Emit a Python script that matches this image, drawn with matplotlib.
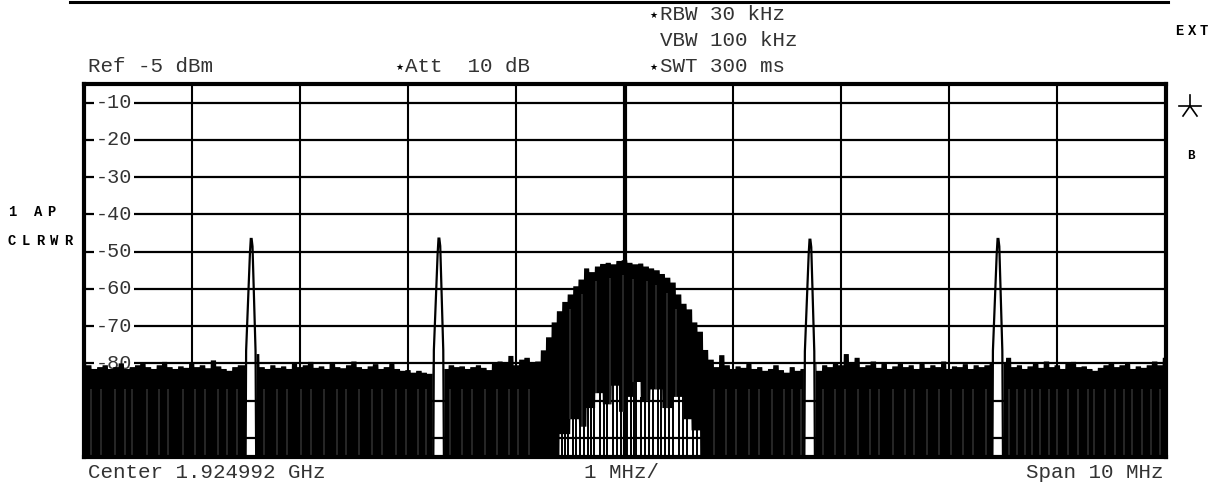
import numpy as np
import matplotlib
matplotlib.use("Agg")
import matplotlib.pyplot as plt
from matplotlib.lines import Line2D

# ---------------- data ----------------
# x axis: offset from centre frequency in MHz (1 MHz/div, span 10 MHz)
env_step_mhz = 0.05
env_db = np.array([
    # -5.00 .. -3.50
    -79.5, -80.5, -81.5, -81.0, -80.5, -81.5, -81.0, -80.0, -81.5, -81.0,
    -80.5, -79.8, -81.0, -81.5, -80.5, -79.6, -81.0, -81.5, -80.8, -81.2,
    -79.7, -81.0, -80.5, -81.3, -79.2, -80.8, -81.5, -82.0, -81.0, -80.5,
    -80.5,
    # tone 1 region
    -80.0, -77.5,
    # -3.35 .. -1.80
    -81.0, -81.5, -80.5, -81.2, -80.8, -81.5, -79.8, -81.0, -80.5, -79.6,
    -81.2, -80.8, -81.5, -80.0, -81.0, -81.3, -80.5, -79.5, -81.0, -81.5,
    -80.8, -80.2, -81.5, -81.0, -80.0, -81.5, -82.0, -81.8, -82.5, -82.0,
    -82.5, -82.8,
    # tone 2 region
    -80.0, -80.0,
    # -1.65 .. -0.85
    -81.5, -80.5, -81.0, -80.8, -81.5, -81.0, -80.5, -81.2, -81.8, -80.0,
    -79.5, -80.0, -78.0, -80.5, -79.0, -78.5, -80.0,
    # carrier -0.80 .. 0.75
    -79.5, -76.5, -73.0, -69.0, -66.0, -63.5, -61.5, -59.3, -57.5, -54.5,
    -55.5, -54.0, -53.3, -53.0, -53.4, -52.5, -52.3, -53.0, -53.4, -53.2,
    -54.0, -54.5, -55.0, -56.0, -57.0, -58.3, -61.5, -64.0, -65.5, -69.0,
    -71.5, -76.4,
    # 0.80, 0.85
    -79.0, -81.0,
    # 0.90 .. 1.65
    -77.8, -80.5, -81.5, -80.8, -81.2, -80.0, -81.5, -81.0, -82.0, -81.5,
    -80.5, -81.8, -82.5, -81.0, -82.0, -81.5,
    # tone 3 region
    -80.0, -80.0,
    # 1.80 .. 3.35
    -82.0, -80.5, -81.0, -79.8, -80.5, -77.5, -80.0, -78.5, -81.0, -80.5,
    -79.5, -81.2, -80.0, -81.5, -80.8, -79.8, -81.0, -80.5, -81.5, -80.0,
    -81.2, -80.5, -81.0, -79.5, -81.5, -80.8, -81.0, -80.2, -81.5, -80.5,
    -81.0, -80.5,
    # tone 4 region
    -80.0, -80.0, -80.0,
    # 3.55 .. 5.00
    -78.5, -81.0, -80.5, -81.5, -80.8, -80.0, -81.2, -79.5, -81.0, -80.5,
    -81.5, -80.0, -79.6, -81.0, -80.8, -81.5, -82.0, -81.2, -80.5, -79.8,
    -81.0, -80.5, -80.0, -81.5, -80.8, -81.2, -80.5, -79.5, -80.5, -78.5,
])
env_freq = np.round(-5.0 + env_step_mhz * np.arange(len(env_db)), 3)

# discrete tones (offset MHz, peak dBm)
tone_f = [-3.450, -1.715, 1.714, 3.452]
tone_peak = [-46.6, -46.5, -46.8, -46.6]
tone_df = [-0.052, -0.047, -0.012, -0.004, 0.004, 0.012, 0.040, 0.046]
tone_rel = [-60.0, -30.0, -4.0, 0.0, 0.0, -2.0, -30.0, -60.0]
tone_gap = (-0.055, 0.050)

# inside the carrier the trace minima stay above the screen bottom
hump_floor_f = [-0.60, -0.50, -0.42, -0.35, -0.27, -0.20, -0.12, -0.05, 0.00,
                0.08, 0.15, 0.24, 0.35, 0.45, 0.55, 0.62, 0.70]
hump_floor_db = [-99.0, -95.0, -97.0, -92.0, -88.0, -91.0, -86.0, -93.0,
                 -89.0, -85.0, -90.0, -87.0, -92.0, -89.0, -95.0, -98.0]
hump_spike_f = [-0.58, -0.55, -0.52, -0.48, -0.45, -0.41, -0.37, -0.34, -0.31,
                -0.28, -0.23, -0.19, -0.16, -0.11, -0.07, -0.03, 0.02, 0.06,
                0.09, 0.11, 0.15, 0.19, 0.23, 0.26, 0.31, 0.34, 0.37, 0.41,
                0.45, 0.50, 0.54, 0.58, 0.63, 0.67, 0.72]
hump_slit_f = [-0.50, -0.39, -0.26, -0.13, -0.01, 0.08, 0.21, 0.29, 0.39, 0.48]

# thin light slits in the noise floor
slit_f = [-4.93, -4.84, -4.71, -4.62, -4.55, -4.41, -4.30, -4.22, -4.08, -3.97,
          -3.88, -3.76, -3.67, -3.58,
          -3.33, -3.21, -3.12, -2.99, -2.90, -2.78, -2.66, -2.57, -2.45, -2.33,
          -2.24, -2.11, -2.02, -1.91, -1.83,
          -1.61, -1.50, -1.41, -1.29, -1.18, -1.07, -0.98, -0.88,
          0.83, 0.94, 1.03, 1.15, 1.24, 1.36, 1.47, 1.55, 1.63,
          1.83, 1.95, 2.04, 2.16, 2.27, 2.35, 2.48, 2.59, 2.68, 2.80, 2.91,
          3.02, 3.13, 3.22, 3.34,
          3.55, 3.63, 3.70, 3.77, 3.84, 3.92, 4.00, 4.10, 4.19, 4.28, 4.34,
          4.44, 4.53, 4.62, 4.69, 4.78, 4.87, 4.95]

y_levels = [-10, -20, -30, -40, -50, -60, -70, -80, -90, -100]
y_labels = ["-10", "-20", "-30", "-40", "-50", "-60", "-70", "-80"]
x_divs = [-4, -3, -2, -1, 0, 1, 2, 3, 4]

# ---------------- figure ----------------
W, H = 1219, 482
plt.rcParams["font.family"] = ["Liberation Mono", "DejaVu Sans"]
fig = plt.figure(figsize=(W / 100, H / 100), dpi=100)
X0, X1, Y0, Y1 = 83.5, 1165.5, 84.0, 456.5
ax = fig.add_axes([X0 / W, 1 - Y1 / H, (X1 - X0) / W, (Y1 - Y0) / H])
ax.set_xlim(-5, 5)
ax.set_ylim(-105, -5)
ax.set_xticks([])
ax.set_yticks([])
for s in ax.spines.values():
    s.set_linewidth(3.0)
    s.set_color("black")
    s.set_zorder(10)

for lv in y_levels:
    ax.axhline(lv, color="black", lw=1.6, zorder=1)
for xv in x_divs:
    ax.axvline(xv, color="black", lw=3.0 if xv == 0 else 1.5, zorder=1)

for lv, lab in zip(y_levels, y_labels):
    ax.annotate(lab, xy=(0, lv), xycoords=("axes fraction", "data"),
                xytext=(12.5, 0), textcoords="offset pixels",
                ha="left", va="center", fontsize=14.5, color="#333333",
                bbox=dict(fc="white", ec="none", pad=1.2), zorder=2)

# trace
fx = np.linspace(-5, 5, 6001)
idx = np.clip(np.round((fx - env_freq[0]) / env_step_mhz).astype(int), 0, len(env_db) - 1)
top = env_db[idx]
floor = np.full_like(fx, -106.0)
for a, b, lvl in zip(hump_floor_f[:-1], hump_floor_f[1:], hump_floor_db):
    floor[(fx >= a) & (fx < b)] = lvl
mask = np.ones_like(fx, dtype=bool)
for t in tone_f:
    mask &= ~((fx > t + tone_gap[0]) & (fx < t + tone_gap[1]))
ax.fill_between(fx, floor, top, where=mask, color="black", lw=0, zorder=3)
ax.vlines(slit_f, -106, -87, color="#9a9a9a", lw=0.35, zorder=4)
for hs in hump_slit_f:
    k = np.argmin(np.abs(fx - hs))
    ax.vlines(hs, floor[k], top[k] - 4, color="#9a9a9a", lw=0.35, zorder=4)
for sf in hump_spike_f:
    lvl = floor[np.argmin(np.abs(fx - sf))]
    ax.vlines(sf, -106, lvl + 1, color="black", lw=1.4, zorder=3)

for t, p in zip(tone_f, tone_peak):
    ax.plot(np.array(tone_df) + t, np.array(tone_rel) + p, color="black",
            lw=1.6, zorder=5, solid_joinstyle="miter")


# ---------------- texts ----------------
def ftxt(x, y, s, ha="left", va="center", size=15, **kw):
    fig.text(x / W, 1 - y / H, s, ha=ha, va=va, fontsize=size,
             color=kw.pop("color", "#333333"), **kw)


def spaced(x, y, s, adv, size=10, weight="bold"):
    for i, ch in enumerate(s):
        if ch != " ":
            ftxt(x + i * adv, y, ch, size=size, weight=weight, color="black")


def star(x, y):
    fig.text(x / W, 1 - y / H, "\u2605", ha="center", va="center",
             fontsize=6.5, family="DejaVu Sans", color="black")


# top border line
fig.add_artist(Line2D([70 / W, 1168 / W], [1 - 1.5 / H, 1 - 1.5 / H],
                      color="black", lw=2.2))

ftxt(88, 66, "Ref -5 dBm")
star(399, 67)
ftxt(405, 66, "Att  10 dB")
star(653, 15)
ftxt(660, 14, "RBW 30 kHz")
ftxt(660, 40, "VBW 100 kHz")
star(653, 67)
ftxt(660, 66, "SWT 300 ms")

spaced(1175, 31, "EXT", 12.5, size=10)
spaced(1187, 156, "B", 12, size=9)
spaced(8, 212, "1 AP", 13, size=10)
spaced(8, 241, "CLRWR", 14, size=10)

# large asterisk at right of the grid
cx, cy = 1190, 106
arms = [(0, -11), (-11, 0), (11, 0), (-7, 10), (7, 10)]
for dx, dy in arms:
    fig.add_artist(Line2D([cx / W, (cx + dx) / W], [1 - cy / H, 1 - (cy + dy) / H],
                          color="black", lw=1.2))

ftxt(88, 472, "Center 1.924992 GHz")
ftxt(621, 472, "1 MHz/", ha="center")
ftxt(1163, 472, "Span 10 MHz", ha="right")

fig.savefig("out.png", dpi=100)
